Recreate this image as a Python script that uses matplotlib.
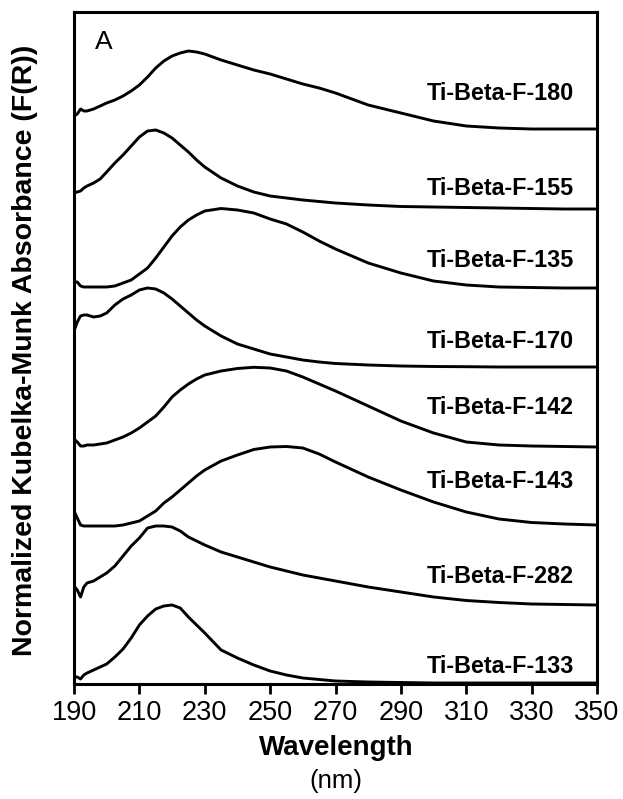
import matplotlib
matplotlib.use("Agg")
import matplotlib.pyplot as plt

plt.rcParams['font.family'] = ['Liberation Sans', 'DejaVu Sans']

# Wavelength grid (nm)
wavelength = [190, 191, 192, 193, 194, 196, 198, 200, 202.5, 205,
              207.5, 210, 212.5, 215, 217.5, 220, 222.5, 225, 227.5, 230,
              235, 240, 245, 250, 255, 260, 265, 270,
              280, 290, 300, 310, 320, 330, 340, 350]

# Normalized Kubelka-Munk traces (a.u.)
f180 = [0.13, 0.15, 0.20, 0.18, 0.18, 0.20, 0.23, 0.26, 0.29, 0.33,
        0.38, 0.44, 0.52, 0.61, 0.68, 0.73, 0.76, 0.78, 0.77, 0.75,
        0.69, 0.64, 0.59, 0.55, 0.50, 0.45, 0.41, 0.36,
        0.24, 0.16, 0.08, 0.03, 0.01, 0.0, 0.0, 0.0]
f155 = [0.16, 0.17, 0.18, 0.21, 0.23, 0.26, 0.30, 0.37, 0.46, 0.54,
        0.63, 0.72, 0.78, 0.79, 0.76, 0.71, 0.64, 0.57, 0.49, 0.42,
        0.31, 0.23, 0.17, 0.13, 0.11, 0.09, 0.075, 0.06,
        0.04, 0.025, 0.02, 0.015, 0.01, 0.005, 0.0, 0.0]
f135 = [0.06, 0.06, 0.02, 0.01, 0.01, 0.01, 0.01, 0.01, 0.02, 0.05,
        0.08, 0.14, 0.20, 0.30, 0.41, 0.52, 0.61, 0.68, 0.73, 0.77,
        0.795, 0.78, 0.75, 0.69, 0.64, 0.56, 0.47, 0.39,
        0.25, 0.15, 0.07, 0.03, 0.01, 0.005, 0.0, 0.0]
f170 = [0.36, 0.45, 0.51, 0.52, 0.52, 0.50, 0.51, 0.54, 0.62, 0.68,
        0.72, 0.77, 0.79, 0.78, 0.74, 0.68, 0.61, 0.54, 0.47, 0.41,
        0.31, 0.23, 0.18, 0.13, 0.10, 0.07, 0.05, 0.035,
        0.02, 0.01, 0.005, 0.003, 0.0, 0.0, 0.0, 0.0]
f142 = [0.08, 0.05, 0.01, 0.01, 0.02, 0.02, 0.03, 0.04, 0.07, 0.10,
        0.14, 0.19, 0.25, 0.31, 0.40, 0.50, 0.57, 0.63, 0.68, 0.72,
        0.76, 0.785, 0.797, 0.79, 0.76, 0.70, 0.63, 0.56,
        0.41, 0.26, 0.14, 0.05, 0.02, 0.01, 0.005, 0.0]
f143 = [0.14, 0.07, 0.0, -0.01, -0.01, -0.01, -0.01, -0.01, -0.01, 0.0,
        0.02, 0.04, 0.09, 0.14, 0.22, 0.28, 0.35, 0.42, 0.49, 0.55,
        0.64, 0.70, 0.755, 0.78, 0.785, 0.77, 0.71, 0.63,
        0.48, 0.35, 0.23, 0.13, 0.06, 0.025, 0.01, 0.0]
f282 = [0.19, 0.15, 0.08, 0.18, 0.22, 0.24, 0.28, 0.32, 0.39, 0.49,
        0.59, 0.67, 0.77, 0.79, 0.79, 0.78, 0.74, 0.68, 0.64, 0.60,
        0.53, 0.48, 0.43, 0.38, 0.34, 0.30, 0.27, 0.24,
        0.18, 0.13, 0.08, 0.045, 0.025, 0.01, 0.005, 0.0]
f133 = [0.06, 0.06, 0.04, 0.08, 0.10, 0.13, 0.16, 0.19, 0.26, 0.34,
        0.45, 0.58, 0.67, 0.74, 0.77, 0.78, 0.75, 0.66, 0.58, 0.50,
        0.33, 0.25, 0.18, 0.12, 0.08, 0.05, 0.035, 0.02,
        0.01, 0.005, 0.0, 0.0, 0.0, 0.0, 0.0, 0.0]

samples = ['Ti-Beta-F-180', 'Ti-Beta-F-155', 'Ti-Beta-F-135', 'Ti-Beta-F-170',
           'Ti-Beta-F-142', 'Ti-Beta-F-143', 'Ti-Beta-F-282', 'Ti-Beta-F-133']
traces = [f180, f155, f135, f170, f142, f143, f282, f133]
offsets = [5.55, 4.75, 3.96, 3.17, 2.37, 1.59, 0.79, 0.01]
label_heights = [5.84, 4.89, 4.17, 3.36, 2.70, 1.96, 1.01, 0.11]
xticks = [190, 210, 230, 250, 270, 290, 310, 330, 350]

fig = plt.figure(figsize=(6.23, 7.99), dpi=100)
ax = fig.add_axes([74 / 623, 1 - 684 / 799, (597 - 74) / 623, (684 - 12) / 799])

for name, trace, off, ly in zip(samples, traces, offsets, label_heights):
    ax.plot(wavelength, [v + off for v in trace], color='black', lw=2.1,
            solid_joinstyle='round', solid_capstyle='round')
    ax.text(343, ly, name, ha='right', va='baseline', fontsize=16.8,
            fontweight='bold', color='black')

ax.set_xlim(190, 350)
ax.set_ylim(0, 6.72)
ax.set_xticks(xticks)
ax.set_xticklabels([str(t) for t in xticks], fontsize=19.5)
ax.set_yticks([])
ax.tick_params(axis='x', direction='out', length=7.5, width=2, pad=4)
for sp in ax.spines.values():
    sp.set_linewidth(2.2)

ax.text(0.040, 0.973, 'A', transform=ax.transAxes, ha='left', va='top',
        fontsize=19)

fig.text(336 / 623, 1 - 748 / 799, 'Wavelength', ha='center', va='center',
         fontsize=20, fontweight='bold')
fig.text(336 / 623, 1 - 781 / 799, '(nm)', ha='center', va='center',
         fontsize=18.5)
fig.text(25 / 623, 1 - 350 / 799, 'Normalized Kubelka-Munk Absorbance (F(R))',
         ha='center', va='center', rotation=90, fontsize=20.5,
         fontweight='bold')

fig.savefig('out.png', dpi=100)
